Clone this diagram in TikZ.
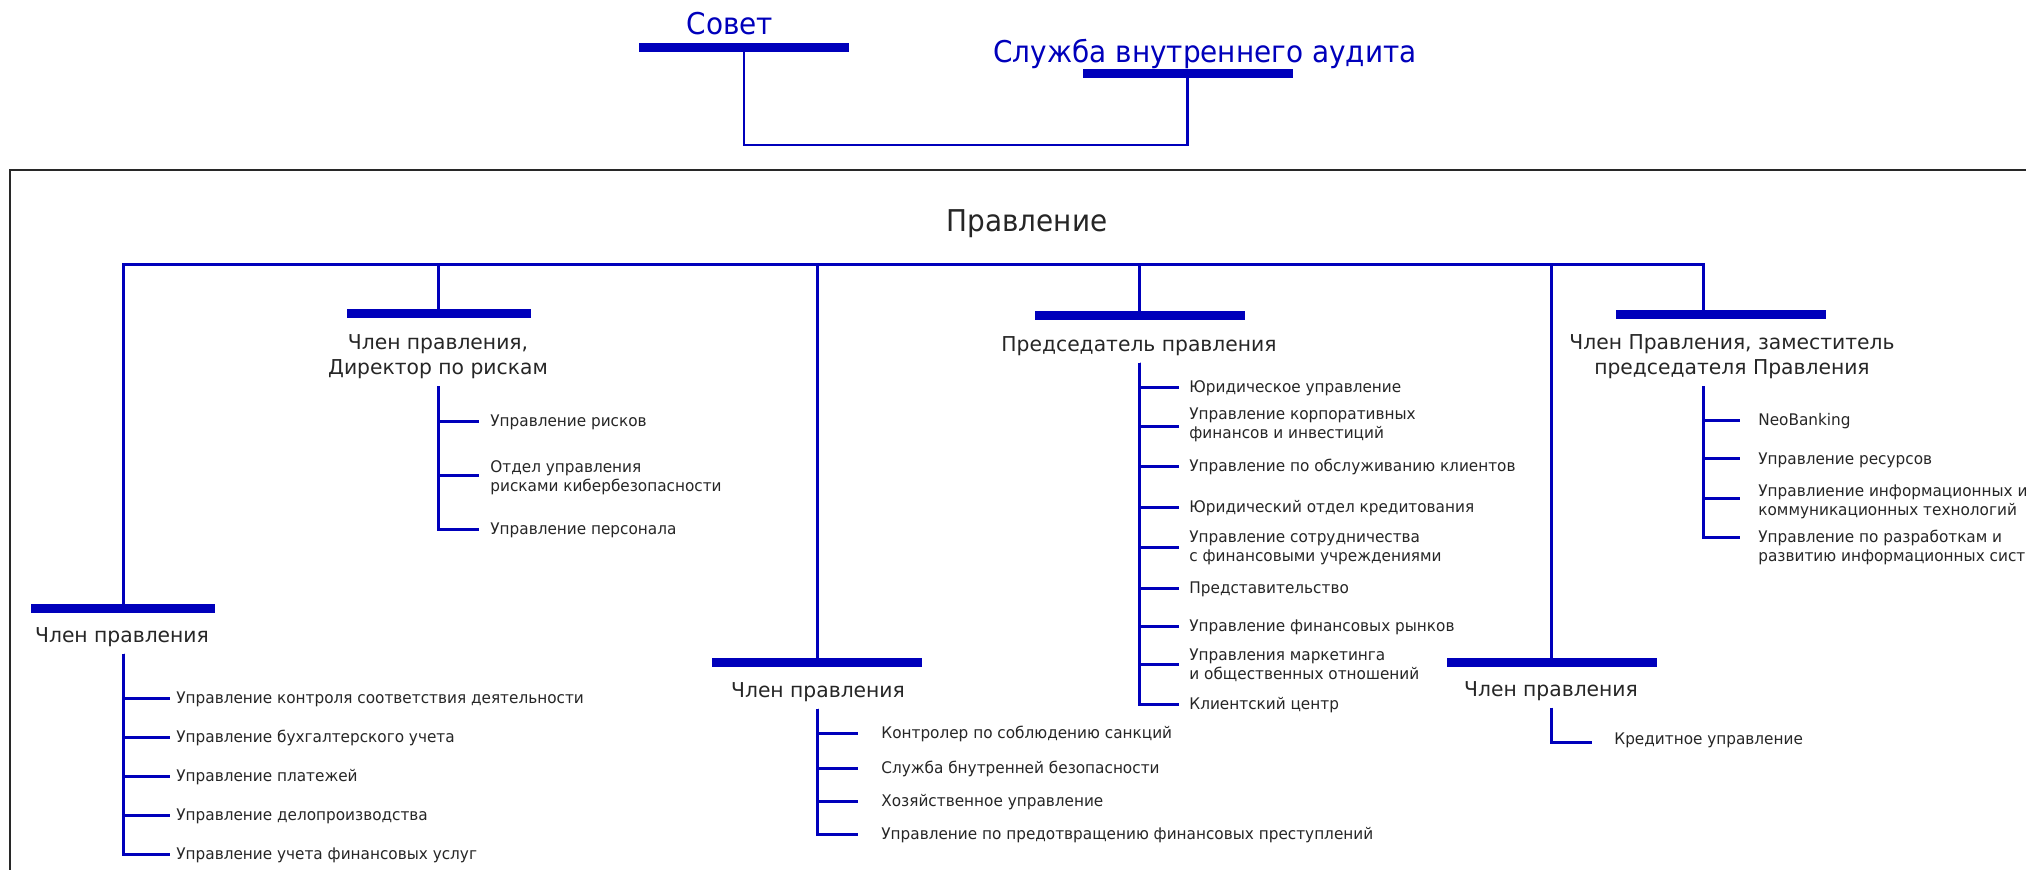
\documentclass[tikz,border=0pt]{standalone}
\usepackage{fontspec}
\setmainfont{DejaVu Sans}
\newfontfamily\bigfont[FakeStretch=0.93]{DejaVu Sans}
\newfontfamily\midfont[FakeStretch=0.99]{DejaVu Sans}
\newfontfamily\deptfont[FakeStretch=0.955]{DejaVu Sans}
\definecolor{orgblue}{RGB}{0,0,187}
\definecolor{orgtext}{RGB}{38,38,38}
\definecolor{orgframe}{RGB}{40,40,40}
\tikzset{
  headbar/.style={fill=orgblue, inner sep=0pt, minimum width=105pt, minimum height=4.5pt},
  shortbar/.style={headbar, minimum width=92pt},
  link/.style={draw=orgblue, line width=1.5pt},
  toplink/.style={draw=orgblue, line width=1.1pt},
  headtitle/.style={text=orgblue, font=\bigfont\fontsize{15}{18}\selectfont},
  boardtitle/.style={text=orgtext, font=\bigfont\fontsize{15}{18}\selectfont},
  membertitle/.style={text=orgtext, align=center, font=\midfont\fontsize{10.25}{12.5}\selectfont},
  dept/.style={text=orgtext, anchor=west, inner sep=0pt, align=left, font=\deptfont\fontsize{8}{9.5}\selectfont},
}
\begin{document}
\begin{tikzpicture}[x=0.5pt,y=-0.5pt]
\useasboundingbox (0,0) rectangle (2026,870);
\draw[orgframe, line width=1pt] (10,170) rectangle (2080,920);

\node[headtitle] (sovet) at (730,24) {Совет};
\node[headbar] (sovetbar) at (744,47.5) {};
\node[headtitle] (audit) at (1205,54) {Служба внутреннего аудита};
\node[headbar] (auditbar) at (1187.5,73.5) {};
\coordinate (boardjoin) at (744,145);
\draw[toplink] (sovetbar.south) -- (boardjoin) -| (auditbar.south);

\node[boardtitle] (board) at (1027,224) {Правление};
\coordinate (bus) at (123,265);

\node[shortbar] (leftbar) at (123,609) {};
\node[membertitle] (lefttitle) at (122,637) {Член правления};
\node[shortbar] (riskbar) at (438.5,314) {};
\node[membertitle] (risktitle) at (438,357) {Член правления,\\Директор по рискам};
\node[headbar] (securitybar) at (817,662.5) {};
\node[membertitle] (securitytitle) at (818,692) {Член правления};
\node[headbar] (chairbar) at (1139.5,315.5) {};
\node[membertitle] (chairtitle) at (1139,346) {Председатель правления};
\node[headbar] (creditbar) at (1551.5,662.5) {};
\node[membertitle] (credittitle) at (1551,691) {Член правления};
\node[headbar] (deputybar) at (1720.5,315) {};
\coordinate (deputytop) at ([xshift=-8.5pt]deputybar.north);
\node[membertitle] (deputytitle) at (1732,357) {Член Правления, заместитель\\председателя Правления};

\draw[link] (leftbar.north) -- (leftbar.north |- bus) -- (deputytop |- bus) -- (deputytop);
\draw[link] (riskbar.north) -- (riskbar.north |- bus);
\draw[link] (securitybar.north) -- (securitybar.north |- bus);
\draw[link] (chairbar.north) -- (chairbar.north |- bus);
\draw[link] (creditbar.north) -- (creditbar.north |- bus);

\node[dept] (l1) at (176,699) {Управление контроля соответствия деятельности};
\node[dept] (l2) at (176,738) {Управление бухгалтерского учета};
\node[dept] (l3) at (176,777) {Управление платежей};
\node[dept] (l4) at (176,816) {Управление делопроизводства};
\node[dept] (l5) at (176,855) {Управление учета финансовых услуг};
\draw[link] (leftbar.north |- lefttitle.south) |- ([xshift=-3pt]l1.west);
\draw[link] (leftbar.north |- lefttitle.south) |- ([xshift=-3pt]l2.west);
\draw[link] (leftbar.north |- lefttitle.south) |- ([xshift=-3pt]l3.west);
\draw[link] (leftbar.north |- lefttitle.south) |- ([xshift=-3pt]l4.west);
\draw[link] (leftbar.north |- lefttitle.south) |- ([xshift=-3pt]l5.west);

\node[dept] (r1) at (490,422) {Управление рисков};
\node[dept] (r2) at (490,478) {Отдел управления\\рисками кибербезопасности};
\node[dept] (r3) at (490,530) {Управление персонала};
\draw[link] (riskbar.north |- risktitle.south) |- ([xshift=-5.5pt]r1.west);
\draw[link] (riskbar.north |- risktitle.south) |- ([xshift=-5.5pt,yshift=1pt]r2.west);
\draw[link] (riskbar.north |- risktitle.south) |- ([xshift=-5.5pt]r3.west);

\node[dept] (s1) at (881,734) {Контролер по соблюдению санкций};
\node[dept] (s2) at (881,769) {Служба бнутренней безопасности};
\node[dept] (s3) at (881,802) {Хозяйственное управление};
\node[dept] (s4) at (881,835) {Управление по предотвращению финансовых преступлений};
\draw[link] (securitybar.north |- securitytitle.south) |- ([xshift=-11.5pt]s1.west);
\draw[link] (securitybar.north |- securitytitle.south) |- ([xshift=-11.5pt]s2.west);
\draw[link] (securitybar.north |- securitytitle.south) |- ([xshift=-11.5pt]s3.west);
\draw[link] (securitybar.north |- securitytitle.south) |- ([xshift=-11.5pt]s4.west);

\node[dept] (c1) at (1189,388) {Юридическое управление};
\node[dept] (c2) at (1189,425) {Управление корпоративных\\финансов и инвестиций};
\node[dept] (c3) at (1189,467) {Управление по обслуживанию клиентов};
\node[dept] (c4) at (1189,508) {Юридический отдел кредитования};
\node[dept] (c5) at (1189,548) {Управление сотрудничества\\с финансовыми учреждениями};
\node[dept] (c6) at (1189,589) {Представительство};
\node[dept] (c7) at (1189,627) {Управление финансовых рынков};
\node[dept] (c8) at (1189,665) {Управления маркетинга\\и общественных отношений};
\node[dept] (c9) at (1189,705) {Клиентский центр};
\draw[link] (chairbar.north |- chairtitle.south) |- ([xshift=-5pt]c1.west);
\draw[link] (chairbar.north |- chairtitle.south) |- ([xshift=-5pt,yshift=-1pt]c2.west);
\draw[link] (chairbar.north |- chairtitle.south) |- ([xshift=-5pt]c3.west);
\draw[link] (chairbar.north |- chairtitle.south) |- ([xshift=-5pt]c4.west);
\draw[link] (chairbar.north |- chairtitle.south) |- ([xshift=-5pt]c5.west);
\draw[link] (chairbar.north |- chairtitle.south) |- ([xshift=-5pt]c6.west);
\draw[link] (chairbar.north |- chairtitle.south) |- ([xshift=-5pt]c7.west);
\draw[link] (chairbar.north |- chairtitle.south) |- ([xshift=-5pt]c8.west);
\draw[link] (chairbar.north |- chairtitle.south) |- ([xshift=-5pt]c9.west);

\node[dept] (k1) at (1614,740) {Кредитное управление};
\draw[link] (creditbar.north |- credittitle.south) |- ([xshift=-11pt,yshift=-1.5pt]k1.west);

\node[dept] (d1) at (1758,421) {NeoBanking};
\node[dept] (d2) at (1758,460) {Управление ресурсов};
\node[dept] (d3) at (1758,502) {Управлиение информационных и\\коммуникационных технологий};
\node[dept] (d4) at (1758,547) {Управление по разработкам и\\развитию информационных систем};
\draw[link] (deputytop |- deputytitle.south) |- ([xshift=-9pt]d1.west);
\draw[link] (deputytop |- deputytitle.south) |- ([xshift=-9pt,yshift=0.5pt]d2.west);
\draw[link] (deputytop |- deputytitle.south) |- ([xshift=-9pt,yshift=1.5pt]d3.west);
\draw[link] (deputytop |- deputytitle.south) |- ([xshift=-9pt,yshift=4.5pt]d4.west);
\end{tikzpicture}
\end{document}
